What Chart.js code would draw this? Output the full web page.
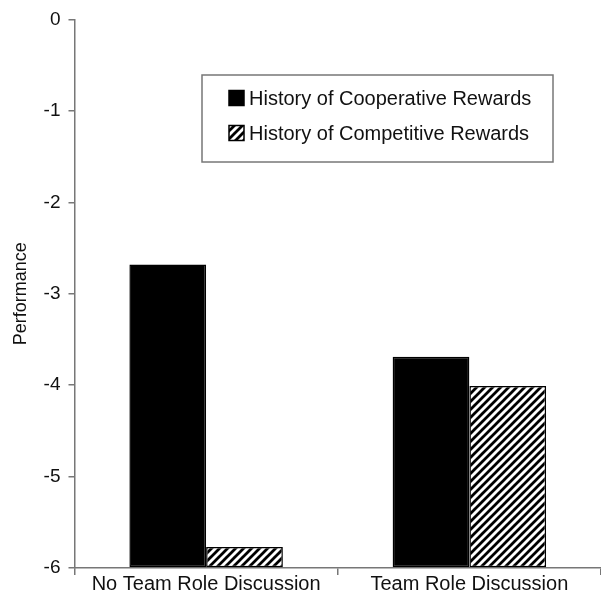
<!DOCTYPE html>
<html>
<head>
<meta charset="utf-8">
<script src="https://cdn.jsdelivr.net/npm/chart.js@4.4.1/dist/chart.umd.min.js"></script>
<style>
  html,body{margin:0;padding:0;background:#fff;}
  #wrap{width:601px;height:601px;position:relative;}
</style>
</head>
<body>
<div id="wrap"><canvas id="perfChart" width="601" height="601"></canvas></div>
<script>
// ===== data =====
const categories = ['No Team Role Discussion', 'Team Role Discussion'];
const cooperative = [-2.68, -3.69];
const competitive = [-5.77, -4.01];
const seriesNames = ['History of Cooperative Rewards', 'History of Competitive Rewards'];
const yTicks = [0, -1, -2, -3, -4, -5, -6];

const FONT = "'Liberation Sans', Arial, sans-serif";

// hatch pattern for the competitive bars
function makeHatch(){
  const c = document.createElement('canvas');
  c.width = 8; c.height = 8;
  const g = c.getContext('2d');
  g.fillStyle = '#fff';
  g.fillRect(0,0,8,8);
  g.strokeStyle = '#000';
  g.lineWidth = 2.8;
  g.beginPath();
  g.moveTo(-2,10); g.lineTo(10,-2);
  g.moveTo(-6,6); g.lineTo(6,-6);
  g.moveTo(2,14); g.lineTo(14,2);
  g.stroke();
  return g.createPattern(c,'repeat');
}
const hatch = makeHatch();

// legend box drawn inside the plot
const boxLegend = {
  id:'boxLegend',
  afterDraw(chart){
    const ctx = chart.ctx;
    ctx.save();
    const x0 = 202, y0 = 75, w = 351, h = 87;
    ctx.strokeStyle = '#777';
    ctx.lineWidth = 1.5;
    ctx.strokeRect(x0, y0, w, h);
    ctx.font = '20px ' + FONT;
    ctx.textBaseline = 'middle';
    const rows = [98, 133];
    chart.data.datasets.forEach((ds,i)=>{
      const y = rows[i];
      ctx.fillStyle = ds.backgroundColor;
      ctx.fillRect(229, y-7.5, 15, 15);
      ctx.strokeStyle = '#000';
      ctx.lineWidth = 1.5;
      ctx.strokeRect(229, y-7.5, 15, 15);
      ctx.fillStyle = '#111';
      ctx.fillText(ds.label, 249, y+1);
    });
    ctx.restore();
  }
};

new Chart(document.getElementById('perfChart'),{
  type:'bar',
  data:{
    labels:categories,
    datasets:[{
      label:seriesNames[0],
      data:cooperative,
      base:-6,
      backgroundColor:'#000',
      borderColor:'#000',
      borderWidth:1.5,
      borderSkipped:false
    },{
      label:seriesNames[1],
      data:competitive,
      base:-6,
      backgroundColor:hatch,
      borderColor:'#000',
      borderWidth:1.5,
      borderSkipped:false
    }]
  },
  options:{
    responsive:false,
    animation:false,
    layout:{padding:{top:8,right:0,bottom:8,left:10}},
    datasets:{bar:{categoryPercentage:0.583,barPercentage:1}},
    plugins:{legend:{display:false},tooltip:{enabled:false}},
    scales:{
      x:{
        offset:true,
        grid:{offset:true,drawOnChartArea:false,drawTicks:true,tickLength:7,color:'#777',lineWidth:1.5},
        border:{color:'#777',width:1.5},
        ticks:{color:'#111',font:{family:FONT,size:20},padding:-3}
      },
      y:{
        min:-6,max:0,
        afterBuildTicks(axis){ axis.ticks = yTicks.map(v=>({value:v})); },
        grid:{drawOnChartArea:false,drawTicks:true,tickLength:6,color:'#777',lineWidth:1.5},
        border:{color:'#777',width:1.5},
        ticks:{color:'#111',font:{family:FONT,size:19},padding:8},
        title:{display:true,text:'Performance',color:'#111',font:{family:FONT,size:18},padding:{top:0,bottom:4}}
      }
    }
  },
  plugins:[boxLegend]
});
</script>
</body>
</html>
